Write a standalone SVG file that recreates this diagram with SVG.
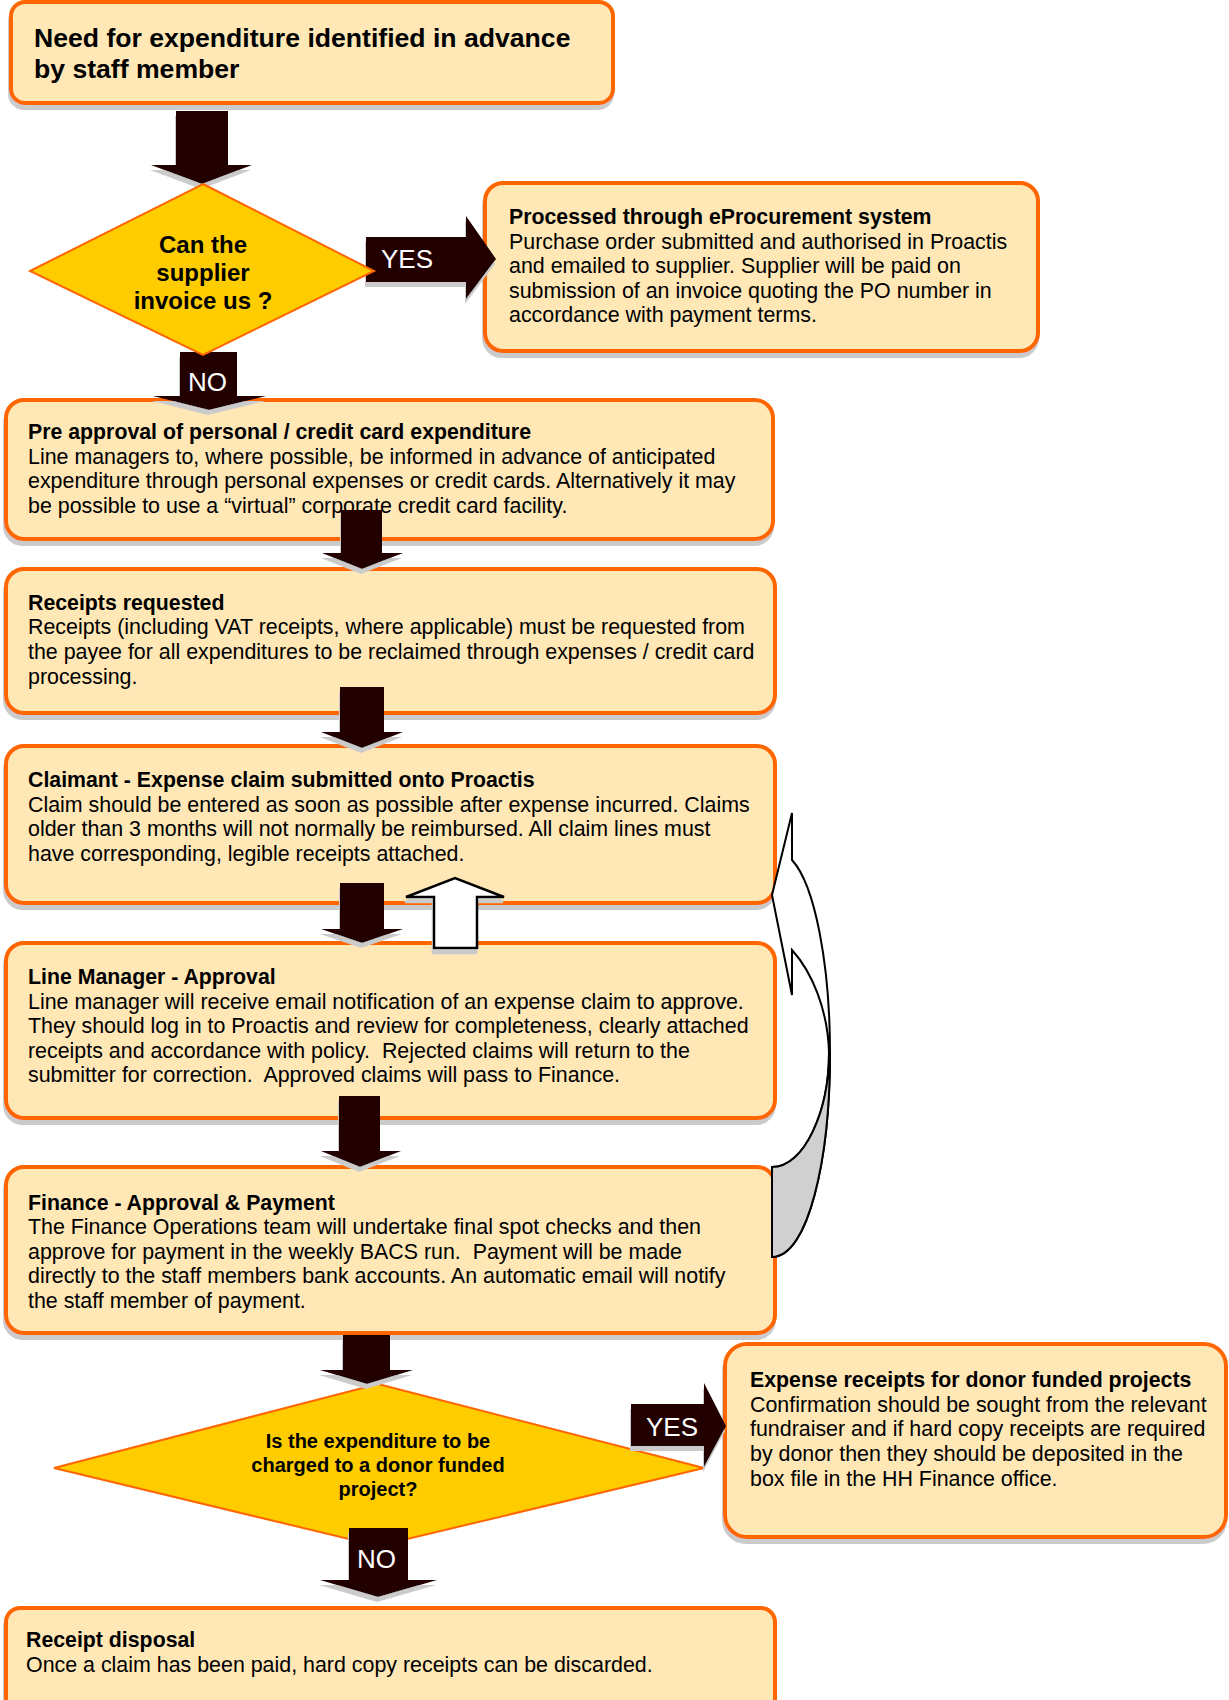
<svg xmlns="http://www.w3.org/2000/svg" width="1229" height="1700" viewBox="0 0 1229 1700">
<defs>
<filter id="sh" x="-5%" y="-5%" width="112%" height="120%">
<feOffset in="SourceAlpha" dx="-1" dy="5" result="o"/>
<feFlood flood-color="#cbcbcb"/>
<feComposite in2="o" operator="in" result="s"/>
<feMerge><feMergeNode in="s"/><feMergeNode in="SourceGraphic"/></feMerge>
</filter>
<style>
.box{fill:#FFE7B6;stroke:#FF6600;stroke-width:4;filter:url(#sh)}
.dia{fill:#FFCC00;stroke:#FF6600;stroke-width:2}
.arr{fill:#200000;filter:url(#sh)}
text{font-family:"Liberation Sans",Arial,sans-serif;fill:#000;white-space:pre}
.t{font-size:21.3px;font-weight:bold}
.b{font-size:21.4px}
.big{font-size:26.6px;font-weight:bold}
.dq{font-size:24px;font-weight:bold;text-anchor:middle}
.dq2{font-size:20px;font-weight:bold;text-anchor:middle}
.lab{font-size:26px;fill:#fff}
.hol{fill:#fff;stroke:#000;stroke-width:2.5}
.cur{stroke:#000;stroke-width:2;stroke-linejoin:miter}
</style>
</defs>
<rect width="1229" height="1700" fill="#fff"/>

<g id="n1">
<rect class="box" x="11" y="2" width="602" height="101" rx="14"/>
<text class="big" x="34" y="47">Need for expenditure identified in advance</text>
<text class="big" x="34" y="78">by staff member</text>
</g>

<g id="n2">
<rect class="box" x="485" y="183" width="553" height="168" rx="18"/>
<text class="t" x="509" y="224">Processed through eProcurement system</text>
<text class="b" x="509" y="249">Purchase order submitted and authorised in Proactis</text>
<text class="b" x="509" y="273">and emailed to supplier. Supplier will be paid on</text>
<text class="b" x="509" y="298">submission of an invoice quoting the PO number in</text>
<text class="b" x="509" y="322">accordance with payment terms.</text>
</g>

<g id="n3">
<rect class="box" x="6" y="400" width="767" height="139" rx="18"/>
<text class="t" x="28" y="439">Pre approval of personal / credit card expenditure</text>
<text class="b" x="28" y="464">Line managers to, where possible, be informed in advance of anticipated</text>
<text class="b" x="28" y="488">expenditure through personal expenses or credit cards. Alternatively it may</text>
<text class="b" x="28" y="513">be possible to use a “virtual” corporate credit card facility.</text>
</g>

<g id="n4">
<rect class="box" x="6" y="569" width="769" height="144" rx="18"/>
<text class="t" x="28" y="610">Receipts requested</text>
<text class="b" x="28" y="634">Receipts (including VAT receipts, where applicable) must be requested from</text>
<text class="b" x="28" y="659">the payee for all expenditures to be reclaimed through expenses / credit card</text>
<text class="b" x="28" y="684">processing.</text>
</g>

<g id="n5">
<rect class="box" x="6" y="746" width="769" height="157" rx="18"/>
<text class="t" x="28" y="787">Claimant - Expense claim submitted onto Proactis</text>
<text class="b" x="28" y="812">Claim should be entered as soon as possible after expense incurred. Claims</text>
<text class="b" x="28" y="836">older than 3 months will not normally be reimbursed. All claim lines must</text>
<text class="b" x="28" y="861">have corresponding, legible receipts attached.</text>
</g>

<g id="n6">
<rect class="box" x="6" y="943" width="769" height="175" rx="18"/>
<text class="t" x="28" y="984">Line Manager - Approval</text>
<text class="b" x="28" y="1009">Line manager will receive email notification of an expense claim to approve.</text>
<text class="b" x="28" y="1033">They should log in to Proactis and review for completeness, clearly attached</text>
<text class="b" x="28" y="1058">receipts and accordance with policy.  Rejected claims will return to the</text>
<text class="b" x="28" y="1082">submitter for correction.  Approved claims will pass to Finance.</text>
</g>

<g id="n7">
<rect class="box" x="6" y="1167" width="769" height="166" rx="18"/>
<text class="t" x="28" y="1210">Finance - Approval &amp; Payment</text>
<text class="b" x="28" y="1234">The Finance Operations team will undertake final spot checks and then</text>
<text class="b" x="28" y="1259">approve for payment in the weekly BACS run.  Payment will be made</text>
<text class="b" x="28" y="1283">directly to the staff members bank accounts. An automatic email will notify</text>
<text class="b" x="28" y="1308">the staff member of payment.</text>
</g>

<g id="n8">
<rect class="box" x="725" y="1344" width="501" height="193" rx="22"/>
<text class="t" x="750" y="1387">Expense receipts for donor funded projects</text>
<text class="b" x="750" y="1412">Confirmation should be sought from the relevant</text>
<text class="b" x="750" y="1436">fundraiser and if hard copy receipts are required</text>
<text class="b" x="750" y="1461">by donor then they should be deposited in the</text>
<text class="b" x="750" y="1486">box file in the HH Finance office.</text>
</g>

<g id="n9">
<rect class="box" x="6" y="1608" width="769" height="104" rx="14"/>
<text class="t" x="26" y="1647">Receipt disposal</text>
<text class="b" x="26" y="1672">Once a claim has been paid, hard copy receipts can be discarded.</text>
</g>

<g id="d2">
<polygon class="dia" points="378,1384 704,1468 378,1546 54,1468"/>
<text class="dq2" x="378" y="1448">Is the expenditure to be</text>
<text class="dq2" x="378" y="1472">charged to a donor funded</text>
<text class="dq2" x="378" y="1496">project?</text>
</g>

<g id="connectors">
<polygon class="arr" points="176,111 228,111 228,165 252,165 202,184 151,165 176,165"/>
<polygon class="arr" points="366,237 466,237 466,216 496,259 466,299 466,282 366,282"/>
<text class="lab" x="381" y="268">YES</text>
<polygon class="arr" points="180,352 237,352 237,396 266,396 209,410 153,396 180,396"/>
<text class="lab" x="188" y="391">NO</text>
<polygon class="arr" points="341,510 382,510 382,553 403,553 362,569 322,553 341,553"/>
<polygon class="arr" points="340,687 384,687 384,732 403,732 362,748 321,732 340,732"/>
<polygon class="arr" points="340,883 384,883 384,929 403,929 362,943 321,929 340,929"/>
<polygon class="hol" points="434,948 477,948 477,897 504,897 455,878 406,897 434,897" filter="url(#sh)"/>
<polygon class="arr" points="339,1096 380,1096 380,1151 401,1151 360,1167 321,1151 339,1151"/>
<polygon class="arr" points="343,1335 390,1335 390,1370 413,1370 367,1384 320,1370 343,1370"/>
<polygon class="arr" points="631,1404 704,1404 704,1383 726,1426 704,1467 704,1446 631,1446"/>
<text class="lab" x="646" y="1436">YES</text>
<polygon class="arr" points="349,1528 408,1528 408,1580 437,1580 378,1597 320,1580 349,1580"/>
<text class="lab" x="357" y="1568">NO</text>
<path class="cur" fill="#fff" d="M772,1257 C808,1257 830,1160 830,1053 C830,965 815,885 792,860 L792,813 L772,895 L792,995 L792,950 C812,972 828,1010 829,1053 C829,1110 805,1167 772,1167 Z"/>
<path class="cur" fill="#d0d0d0" d="M829,1053 C829,1110 805,1167 772,1167 L772,1257 C808,1257 830,1160 830,1053 Z"/>
</g>

<g id="d1">
<polygon class="dia" points="203,184 374,271 203,355 30,271"/>
<text class="dq" x="203" y="253">Can the</text>
<text class="dq" x="203" y="281">supplier</text>
<text class="dq" x="203" y="309">invoice us ?</text>
</g>
</svg>
